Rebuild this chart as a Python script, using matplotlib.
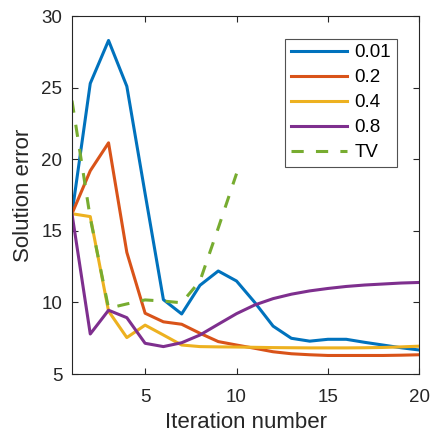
import matplotlib
matplotlib.use("Agg")
import matplotlib.pyplot as plt
from matplotlib.ticker import MultipleLocator

plt.rcParams['font.family'] = ['Liberation Sans', 'DejaVu Sans']

iters = list(range(1, 21))
err_001 = [16.2, 25.3, 28.3, 25.1, 17.6, 10.2, 9.2, 11.2, 12.2, 11.5,
           10.0, 8.35, 7.5, 7.3, 7.43, 7.43, 7.22, 7.03, 6.84, 6.68]
err_02 = [16.2, 19.2, 21.15, 13.5, 9.25, 8.65, 8.48, 7.85, 7.27, 7.03,
          6.8, 6.56, 6.42, 6.35, 6.3, 6.3, 6.3, 6.3, 6.32, 6.35]
err_04 = [16.2, 16.0, 9.4, 7.55, 8.42, 7.73, 7.03, 6.92, 6.9, 6.89,
          6.87, 6.85, 6.84, 6.83, 6.83, 6.83, 6.84, 6.86, 6.9, 6.95]
err_08 = [16.2, 7.8, 9.46, 8.94, 7.15, 6.92, 7.19, 7.73, 8.48, 9.22,
          9.83, 10.27, 10.58, 10.81, 10.98, 11.12, 11.22, 11.29, 11.36, 11.4]
tv_iters = list(range(1, 11))
err_tv = [24.1, 15.9, 9.6, 9.9, 10.18, 10.1, 9.98, 11.5, 15.2, 19.0]

labels = ["0.01", "0.2", "0.4", "0.8", "TV"]
colors = ["#0072BD", "#D95319", "#EDB120", "#7E2F8E", "#77AC30"]

fig = plt.figure(figsize=(4.31, 4.36), dpi=100)
ax = fig.add_axes([0.167, 0.142, 0.806, 0.821])
lw = 2.2
for ys, lab, c in zip([err_001, err_02, err_04, err_08], labels, colors):
    ax.plot(iters, ys, color=c, lw=lw, label=lab)
ax.plot(tv_iters, err_tv, color=colors[4], lw=lw, ls=(0, (4, 4)), label=labels[4])

ax.set_xlim(1, 20)
ax.set_ylim(5, 30)
ax.xaxis.set_major_locator(MultipleLocator(5))
ax.yaxis.set_major_locator(MultipleLocator(5))
ax.tick_params(direction="in", top=True, right=True, labelsize=13.5,
               length=4, width=0.8, colors="#262626")
ax.tick_params(axis="x", pad=11)
ax.tick_params(axis="y", pad=7)
for s in ax.spines.values():
    s.set_color("#262626")
    s.set_linewidth(0.8)
ax.set_xlabel("Iteration number", fontsize=16, color="#262626", labelpad=4)
ax.set_ylabel("Solution error", fontsize=16, color="#262626", labelpad=5)

leg = ax.legend(loc="upper right", fontsize=13.5, frameon=True, fancybox=False,
                edgecolor="#262626", borderaxespad=1.2, handlelength=3.0,
                labelspacing=0.42, borderpad=0.3, handletextpad=0.4)
leg.get_frame().set_linewidth(0.8)

fig.savefig("out.png", dpi=100)
